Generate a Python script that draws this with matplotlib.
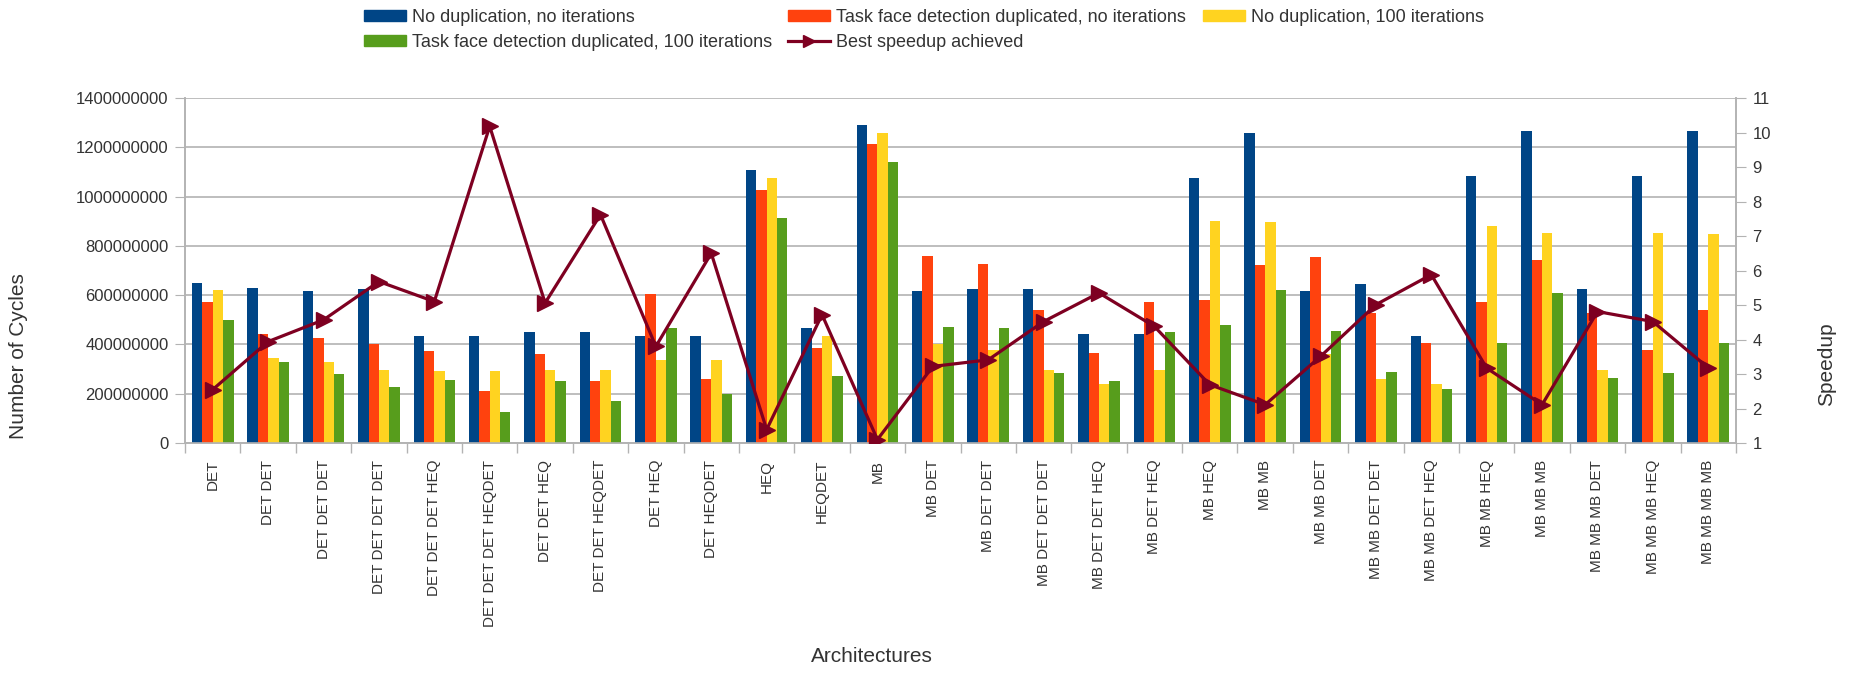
import numpy as np
import matplotlib.pyplot as plt
from matplotlib.patches import Patch
from matplotlib.lines import Line2D

plt.rcParams['font.family'] = ['Liberation Sans', 'DejaVu Sans']

categories = ['DET', 'DET DET', 'DET DET DET', 'DET DET DET DET', 'DET DET DET HEQ',
              'DET DET DET HEQDET', 'DET DET HEQ', 'DET DET HEQDET', 'DET HEQ', 'DET HEQDET',
              'HEQ', 'HEQDET', 'MB', 'MB DET', 'MB DET DET', 'MB DET DET DET',
              'MB DET DET HEQ', 'MB DET HEQ', 'MB HEQ', 'MB MB', 'MB MB DET',
              'MB MB DET DET', 'MB MB DET HEQ', 'MB MB HEQ', 'MB MB MB', 'MB MB MB DET',
              'MB MB MB HEQ', 'MB MB MB MB']

# cycles, in millions
no_dup_no_iter = [650, 630, 618, 626, 435, 435, 452, 452, 435, 435,
                  1109, 468, 1292, 618, 626, 626, 443, 443, 1077, 1259,
                  618, 646, 435, 1085, 1267, 626, 1085, 1267]
dup_no_iter = [573, 443, 427, 403, 375, 212, 362, 253, 606, 261,
               1028, 387, 1215, 760, 727, 541, 366, 573, 582, 723,
               756, 529, 407, 573, 743, 529, 379, 541]
no_dup_100 = [622, 346, 330, 297, 293, 293, 297, 297, 338, 338,
              1077, 435, 1259, 403, 379, 297, 241, 297, 902, 898,
              362, 261, 241, 882, 852, 297, 852, 849]
dup_100 = [500, 330, 281, 229, 257, 127, 253, 172, 468, 200,
           914, 273, 1142, 472, 468, 285, 253, 452, 480, 622,
           456, 289, 220, 407, 610, 265, 285, 407]
speedup = [2.55, 3.94, 4.57, 5.68, 5.10, 10.18, 5.06, 7.62, 3.80, 6.50,
           1.39, 4.72, 1.10, 3.22, 3.41, 4.52, 5.35, 4.38, 2.69, 2.11,
           3.51, 5.01, 5.88, 3.17, 2.11, 4.81, 4.52, 3.18]

series_names = ['No duplication, no iterations', 'Task face detection duplicated, no iterations',
                'No duplication, 100 iterations', 'Task face detection duplicated, 100 iterations']
colors = ['#004586', '#ff420e', '#ffd320', '#579d1c']
line_color = '#7e0021'
grid_color = '#b3b3b3'
text_color = '#333333'

fig = plt.figure(figsize=(18.6, 6.75), dpi=100)
ax = fig.add_axes([0.0995, 0.3437, 0.8338, 0.5111])
ax2 = ax.twinx()

x = np.arange(len(categories))
bw = 0.1875
series = [no_dup_no_iter, dup_no_iter, no_dup_100, dup_100]
for i, vals in enumerate(series):
    ax.bar(x + (i - 1.5) * bw, np.array(vals) * 1e6, width=bw, color=colors[i], zorder=3)

ax2.plot(x, speedup, color=line_color, lw=2.3, marker='>', markersize=11, zorder=5)

ax.set_xlim(-0.5, len(categories) - 0.5)
ax.set_ylim(0, 1.4e9)
ax2.set_ylim(1, 11)

yt = np.arange(0, 1.4e9 + 1, 2e8)
ax.set_yticks(yt)
ax.set_yticklabels([str(int(v)) for v in yt])
ax2.set_yticks(np.arange(1, 12))

ax.set_xticks(x)
ax.set_xticklabels(categories, rotation=90, fontsize=11, color=text_color)
ax.set_xticks(np.arange(-0.5, len(categories)), minor=True)
ax.tick_params(axis='x', which='major', length=0, pad=12)
ax.tick_params(axis='x', which='minor', length=7, color=grid_color, width=1)
ax.tick_params(axis='y', length=7, color=grid_color, labelsize=12, labelcolor=text_color, pad=5)
ax2.tick_params(axis='y', length=7, color=grid_color, labelsize=12, labelcolor=text_color, pad=5)

ax.yaxis.grid(True, color=grid_color, lw=1.2, zorder=0)
ax.set_axisbelow(True)
for a in (ax, ax2):
    a.spines['top'].set_visible(False)
    for s in ('left', 'right', 'bottom'):
        a.spines[s].set_color(grid_color)
        a.spines[s].set_linewidth(1.2)

ax.set_zorder(ax2.get_zorder() - 1)
ax.patch.set_visible(False)

fig.text(0.0097, 0.473, 'Number of Cycles', rotation=90, ha='center', va='center',
         fontsize=15, color=text_color)
fig.text(0.982, 0.46, 'Speedup', rotation=90, ha='center', va='center',
         fontsize=15, color=text_color)
fig.text(0.469, 0.028, 'Architectures', ha='center', va='center',
         fontsize=15, color=text_color)

handles = [Patch(color=colors[0], label=series_names[0]),
           Patch(color=colors[3], label=series_names[3]),
           Patch(color=colors[1], label=series_names[1]),
           Line2D([], [], color=line_color, lw=2.3, marker='>', markersize=9,
                  label='Best speedup achieved'),
           Patch(color=colors[2], label=series_names[2])]
fig.legend(handles=handles, ncol=3, loc='upper left', bbox_to_anchor=(0.1918, 0.998),
           frameon=False, fontsize=13, handlelength=2.33, handleheight=0.55,
           handletextpad=0.33, columnspacing=0.9, labelspacing=0.45,
           labelcolor=text_color, borderaxespad=0.0)

fig.savefig('out.png', dpi=100)
